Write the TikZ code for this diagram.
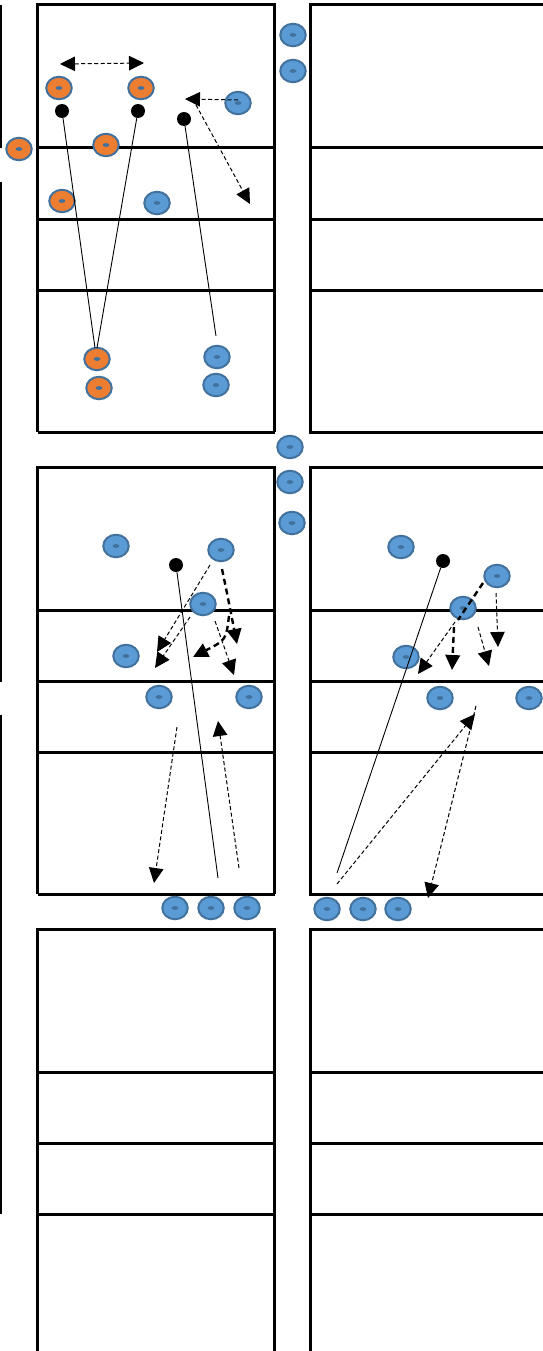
\documentclass[tikz,border=0pt]{standalone}
\usetikzlibrary{shapes.geometric,arrows.meta}
\definecolor{pblue}{HTML}{5B9BD5}
\definecolor{porange}{HTML}{ED7D31}
\definecolor{pedge}{HTML}{41719C}
\tikzset{
  court/.style={line width=3pt},
  sideline/.style={line width=1.3pt},
  player/.style={ellipse, draw=pedge, line width=2pt, minimum width=25.5pt,
    minimum height=22.5pt, inner sep=0pt,
    path picture={\fill[pedge] (path picture bounding box.center) ellipse (3.4pt and 1.9pt);}},
  bp/.style={player, fill=pblue},
  op/.style={player, fill=porange},
  cone/.style={circle, fill=black, minimum size=14pt, inner sep=0pt},
  run/.style={line width=0.9pt},
  headtip/.tip={Triangle[length=15pt,width=14.5pt]},
  tipstyle/.style={-headtip},
  move/.style={line width=1pt, dash pattern=on 4pt off 2.5pt, tipstyle},
  bigmove/.style={line width=2.4pt, dash pattern=on 6pt off 4pt},
}
\begin{document}
\begin{tikzpicture}[x=1pt,y=-1pt]
\useasboundingbox (0,0) rectangle (543,1351);
\clip (0,0) rectangle (543,1351);

% side line at the far left
\draw[sideline] (1,5) -- (1,148);
\draw[sideline] (1,182) -- (1,682);
\draw[sideline] (1,715) -- (1,1214);

% courts: three rows, two columns
\foreach \t in {5,467,929}{
  \draw[court] (37.5,\t+427) -- (37.5,\t) -- (274.5,\t) -- (274.5,\t+427);
  \draw[court] (37.5,\t+427) -- (274.5,\t+427);
  \draw[court] (543,\t) -- (310.5,\t) -- (310.5,\t+427) -- (543,\t+427);
  \foreach \d in {143,214,285}{
    \draw[court] (37.5,\t+\d) -- (274.5,\t+\d);
    \draw[court] (310.5,\t+\d) -- (543,\t+\d);
  }
}

% ---------- first drill ----------
\node[op] (o1) at (59,88) {};
\node[op] (o2) at (141,88) {};
\node[op] (o3) at (19,149) {};
\node[op] (o4) at (106,145) {};
\node[op] (o5) at (62,201) {};
\node[op] (o6) at (97,359) {};
\node[op] (o7) at (99,388) {};
\node[bp] (b1) at (293,35) {};
\node[bp] (b2) at (293,71) {};
\node[bp] (b3) at (238,103) {};
\node[bp] (b4) at (157,203) {};
\node[bp] (b5) at (217,357) {};
\node[bp] (b6) at (216,385) {};
\node[cone] (c1) at (62,111) {};
\node[cone] (c2) at (138,111) {};
\node[cone] (c3) at (184,119) {};

\coordinate (e1) at (95,348);
\coordinate (e2) at (97,348);
\coordinate (e3) at (216,336);
\draw[run] (c1) -- (e1);
\draw[run] (c2) -- (e2);
\draw[run] (c3) -- (e3);

\coordinate (m1a) at (60,64);
\coordinate (m1b) at (144,63);
\draw[move, headtip-headtip] (m1a) -- (m1b);
\coordinate (m2a) at (238,100);
\coordinate (m2b) at (185,99);
\draw[move] (m2a) -- (m2b);
\coordinate (m3a) at (196,105);
\coordinate (m3b) at (250,204);
\draw[move] (m3a) -- (m3b);

% players waiting between the courts
\node[bp] (w1) at (290,447) {};
\node[bp] (w2) at (290,482) {};
\node[bp] (w3) at (292,523) {};

% ---------- second drill, left ----------
\node[bp] (l1) at (116,546) {};
\node[bp] (l2) at (221,550) {};
\node[bp] (l3) at (203,604) {};
\node[bp] (l4) at (126,656) {};
\node[bp] (l5) at (159,697) {};
\node[bp] (l6) at (249,697) {};
\node[cone] (c4) at (176,565) {};
\coordinate (e4) at (218,878);
\draw[run] (c4) -- (e4);

\coordinate (la1) at (210,565);
\coordinate (la2) at (157,652);
\draw[move] (la1) -- (la2);
\coordinate (lb1) at (190,617);
\coordinate (lb2) at (155,668);
\draw[move] (lb1) -- (lb2);
\coordinate (lc1) at (222,569);
\coordinate (lc2) at (237,644);
\draw[bigmove, tipstyle] (lc1) .. controls (228,598) .. (lc2);
\coordinate (ld1) at (229,616);
\coordinate (ld2) at (193,657);
\draw[bigmove, tipstyle] (ld1) .. controls (226,640) .. (ld2);
\coordinate (le1) at (215,621);
\coordinate (le2) at (234,675);
\draw[move] (le1) -- (le2);

\coordinate (lf1) at (177,727);
\coordinate (lf2) at (154,883);
\draw[move] (lf1) -- (lf2);
\coordinate (lg1) at (239,868);
\coordinate (lg2) at (218,721);
\draw[move] (lg1) -- (lg2);

\node[bp] (q1) at (175,908) {};
\node[bp] (q2) at (211,908) {};
\node[bp] (q3) at (247,908) {};

% ---------- second drill, right ----------
\node[bp] (r1) at (401,547) {};
\node[bp] (r2) at (497,576) {};
\node[bp] (r3) at (463,608) {};
\node[bp] (r4) at (406,657) {};
\node[bp] (r5) at (440,698) {};
\node[bp] (r6) at (529,698) {};
\node[cone] (c5) at (443,561) {};
\coordinate (e5) at (337,873);
\draw[run] (c5) -- (e5);

\coordinate (ra1) at (483,583);
\coordinate (ra2) at (458,620);
\draw[bigmove] (ra1) -- (ra2);
\coordinate (rb1) at (454,627);
\coordinate (rb2) at (452,670);
\draw[bigmove, tipstyle] (rb1) -- (rb2);
\coordinate (rc1) at (455,622);
\coordinate (rc2) at (418,674);
\draw[move] (rc1) -- (rc2);
\coordinate (rd1) at (478,627);
\coordinate (rd2) at (489,666);
\draw[move] (rd1) -- (rd2);
\coordinate (re1) at (496,593);
\coordinate (re2) at (498,647);
\draw[move] (re1) -- (re2);

\coordinate (rf1) at (337,884);
\coordinate (rf2) at (475,714);
\draw[move] (rf1) -- (rf2);
\coordinate (rg1) at (476,706);
\coordinate (rg2) at (428,898);
\draw[move] (rg1) -- (rg2);

\node[bp] (s1) at (327,909) {};
\node[bp] (s2) at (363,909) {};
\node[bp] (s3) at (398,909) {};
\end{tikzpicture}
\end{document}
